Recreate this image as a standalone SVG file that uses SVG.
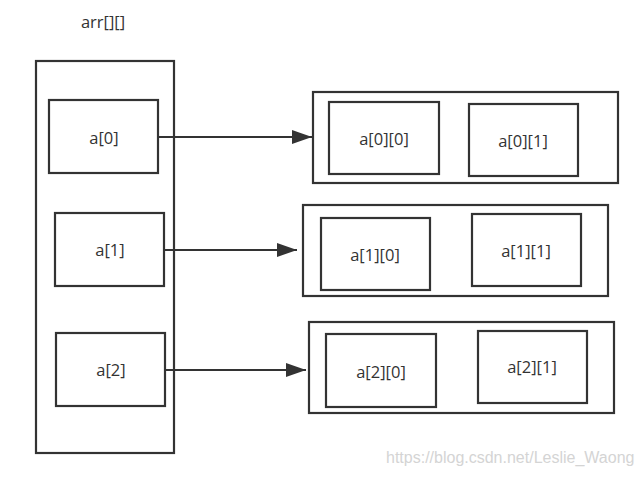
<svg xmlns="http://www.w3.org/2000/svg" width="642" height="477" viewBox="0 0 642 477">
<style>
.b{fill:none;stroke:#333;stroke-width:2.2}
.t{font-family:"Open Sans","Noto Sans","Liberation Sans",sans-serif;font-size:16.5px;fill:#333;text-anchor:middle}
.c{stroke:#333;stroke-width:2;fill:none}
.w{font-family:"Liberation Sans",Arial,sans-serif;font-size:16px;fill:#d4d4d4}
</style>
<defs>
<marker id="ah" viewBox="0 0 20 14" refX="20" refY="7" markerWidth="20" markerHeight="14" markerUnits="userSpaceOnUse" orient="auto">
<path d="M0,0 L20,7 L0,14 Z" fill="#333"/>
</marker>
</defs>
<rect width="642" height="477" fill="#fff"/>
<text class="t" x="103" y="28">arr[][]</text>
<g id="arr">
<rect class="b" x="36" y="61" width="138" height="392"/>
</g>
<g id="a0"><rect class="b" x="49" y="100" width="109" height="73"/><text class="t" x="104" y="144">a[0]</text></g>
<g id="a1"><rect class="b" x="55" y="213" width="109" height="73"/><text class="t" x="110" y="256">a[1]</text></g>
<g id="a2"><rect class="b" x="56" y="333" width="109" height="73"/><text class="t" x="111" y="376">a[2]</text></g>
<g id="row0"><rect class="b" x="313" y="92" width="305" height="91"/></g>
<g id="a00"><rect class="b" x="329" y="102" width="110" height="72"/><text class="t" x="384" y="145">a[0][0]</text></g>
<g id="a01"><rect class="b" x="469" y="104" width="109" height="72"/><text class="t" x="523" y="147">a[0][1]</text></g>
<g id="row1"><rect class="b" x="303" y="205" width="305" height="91"/></g>
<g id="a10"><rect class="b" x="321" y="218" width="109" height="72"/><text class="t" x="375" y="261">a[1][0]</text></g>
<g id="a11"><rect class="b" x="472" y="214" width="109" height="72"/><text class="t" x="526" y="257">a[1][1]</text></g>
<g id="row2"><rect class="b" x="309" y="322" width="305" height="91"/></g>
<g id="a20"><rect class="b" x="326" y="334" width="110" height="73"/><text class="t" x="381" y="378">a[2][0]</text></g>
<g id="a21"><rect class="b" x="478" y="331" width="109" height="72"/><text class="t" x="532" y="373">a[2][1]</text></g>
<g id="connectors">
<line class="c" x1="158" y1="137" x2="312" y2="137" marker-end="url(#ah)"/>
<line class="c" x1="164" y1="250" x2="297" y2="250" marker-end="url(#ah)"/>
<line class="c" x1="166" y1="370" x2="306" y2="370" marker-end="url(#ah)"/>
</g>
<text class="w" x="386" y="463">https://blog.csdn.net/Leslie_Waong</text>
</svg>
